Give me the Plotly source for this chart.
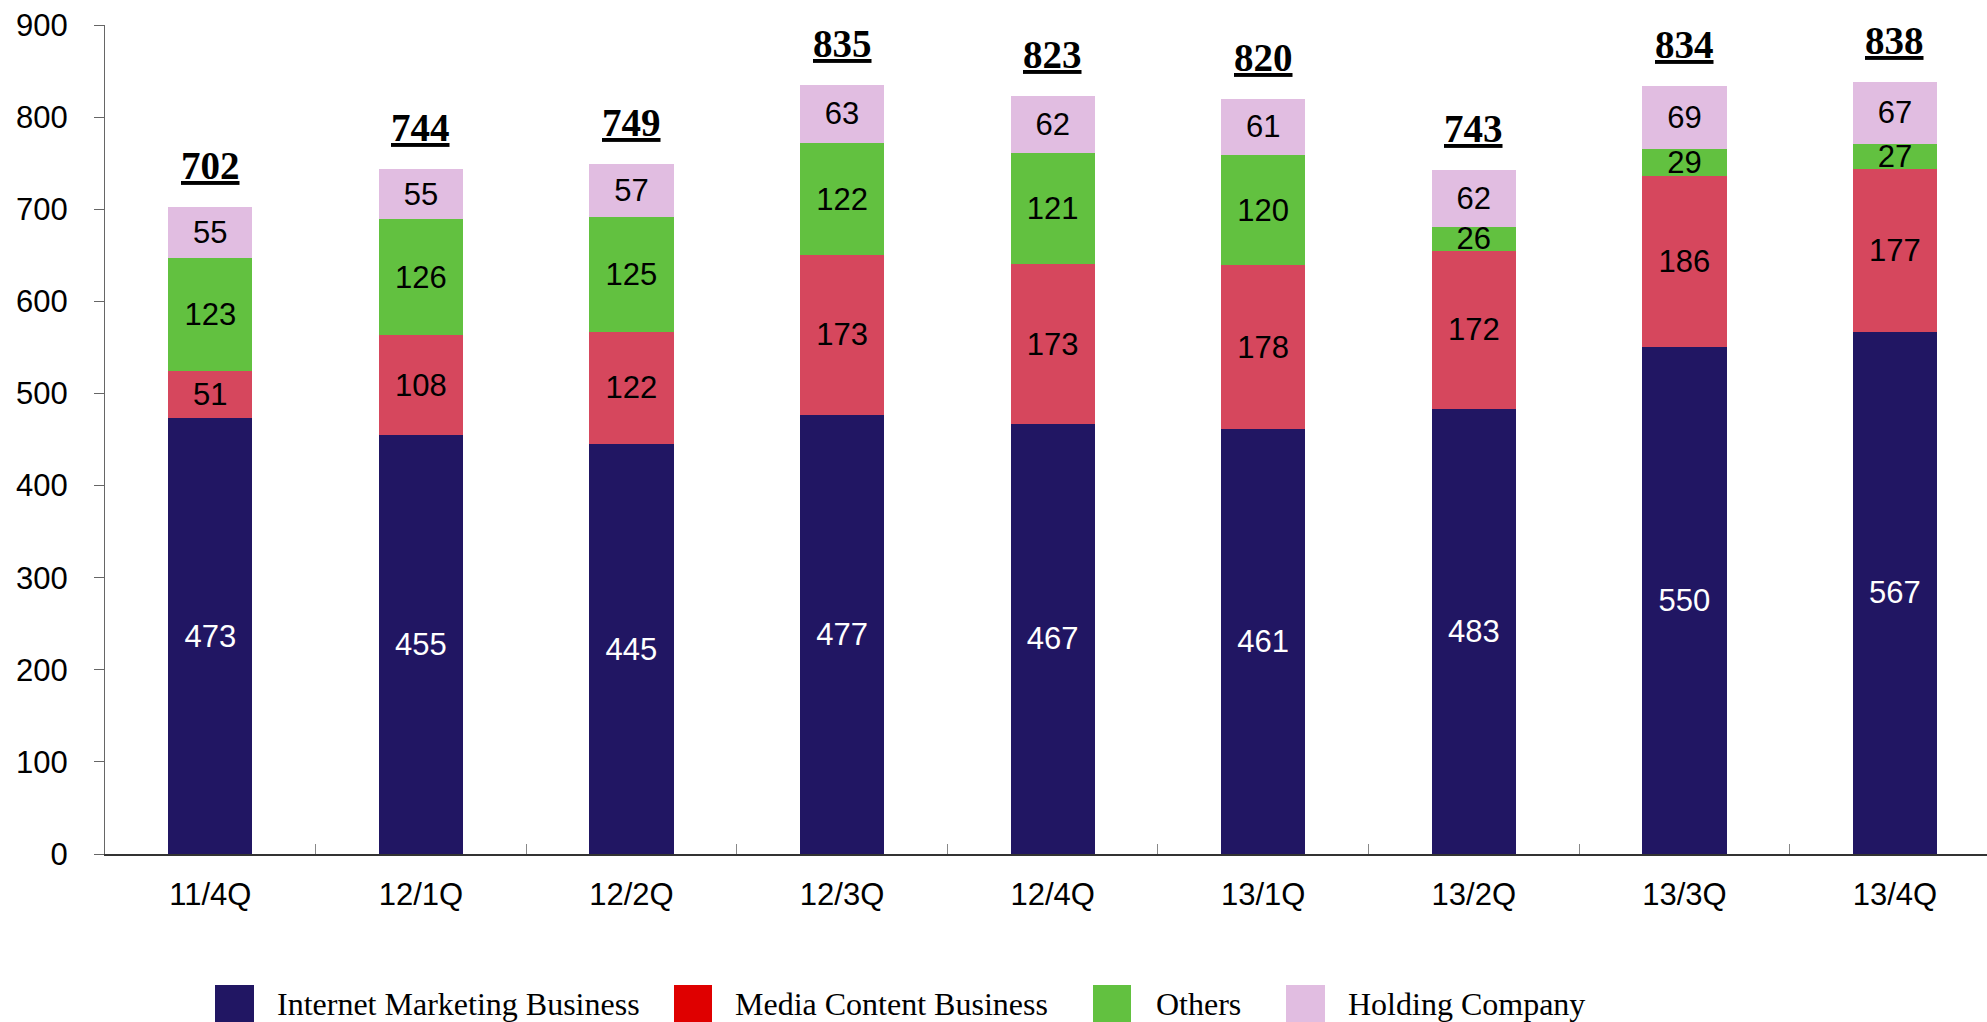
import plotly.graph_objects as go

categories = ["11/4Q", "12/1Q", "12/2Q", "12/3Q", "12/4Q", "13/1Q", "13/2Q", "13/3Q", "13/4Q"]
internet = [473, 455, 445, 477, 467, 461, 483, 550, 567]
media = [51, 108, 122, 173, 173, 178, 172, 186, 177]
others = [123, 126, 125, 122, 121, 120, 26, 29, 27]
holding = [55, 55, 57, 63, 62, 61, 62, 69, 67]
totals = [702, 744, 749, 835, 823, 820, 743, 834, 838]

series = [
    ("Internet Marketing Business", internet, "#211663", "white", "#211663"),
    ("Media Content Business", media, "#D6475D", "black", "#DF0000"),
    ("Others", others, "#62C140", "black", "#62C140"),
    ("Holding Company", holding, "#E1BDE1", "black", "#E1BDE1"),
]

SANS = "Liberation Sans, Arial, sans-serif"
SERIF = "Liberation Serif, Times New Roman, serif"

fig = go.Figure()
for name, vals, col, tcol, _ in series:
    fig.add_trace(go.Bar(
        x=categories, y=vals, name=name,
        marker=dict(color=col, line=dict(width=0)),
        text=[str(v) for v in vals], textposition="inside",
        insidetextanchor="middle", textangle=0,
        textfont=dict(family=SANS, size=31, color=tcol),
        showlegend=False,
    ))

for c, t in zip(categories, totals):
    fig.add_annotation(x=c, y=t, xref="x", yref="y", text=f"<b><u>{t}</u></b>",
                       showarrow=False, yanchor="bottom", yshift=18,
                       font=dict(family=SERIF, size=39, color="black"))

# plot area in pixels
L, R, T, B = 105, 1987, 25, 854
def px(p):
    return (p - L) / (R - L)
def py(p):
    return (B - p) / (B - T)

sw = [(215, 254), (674, 712), (1093, 1131), (1286, 1325)]
tx = [275, 733, 1154, 1346]
for (x0, x1), t0, (name, _, _, _, lcol) in zip(sw, tx, series):
    fig.add_shape(type="rect", xref="paper", yref="paper",
                  x0=px(x0), x1=px(x1), y0=py(1022), y1=py(985),
                  fillcolor=lcol, line=dict(width=0))
    fig.add_annotation(x=px(t0), y=py(1004), xref="paper", yref="paper",
                       text=name, showarrow=False, xanchor="left", yanchor="middle",
                       font=dict(family=SERIF, size=32, color="black"))

fig.update_layout(
    width=1987, height=1022,
    margin=dict(l=L, r=1987 - R, t=T, b=1022 - B),
    barmode="stack", bargap=0.6,
    plot_bgcolor="white", paper_bgcolor="white",
    uniformtext=dict(minsize=31, mode="show"),
    font=dict(family=SANS, size=31, color="black"),
)
fig.update_yaxes(range=[0, 900], dtick=100, showgrid=False, zeroline=False,
                 showline=True, linecolor="#666666", linewidth=1,
                 ticks="outside", ticklen=10, tickcolor="#666666",
                 ticklabelstandoff=20,
                 tickfont=dict(family=SANS, size=31, color="black"))
fig.update_xaxes(range=[-0.5, 8.437], showgrid=False, showline=True,
                 linecolor="#333333", linewidth=1.5,
                 ticks="inside", ticklen=10, tickcolor="#888888", tickson="boundaries",
                 ticklabelstandoff=12,
                 tickfont=dict(family=SANS, size=31, color="black"))

fig.write_html("out.html")
